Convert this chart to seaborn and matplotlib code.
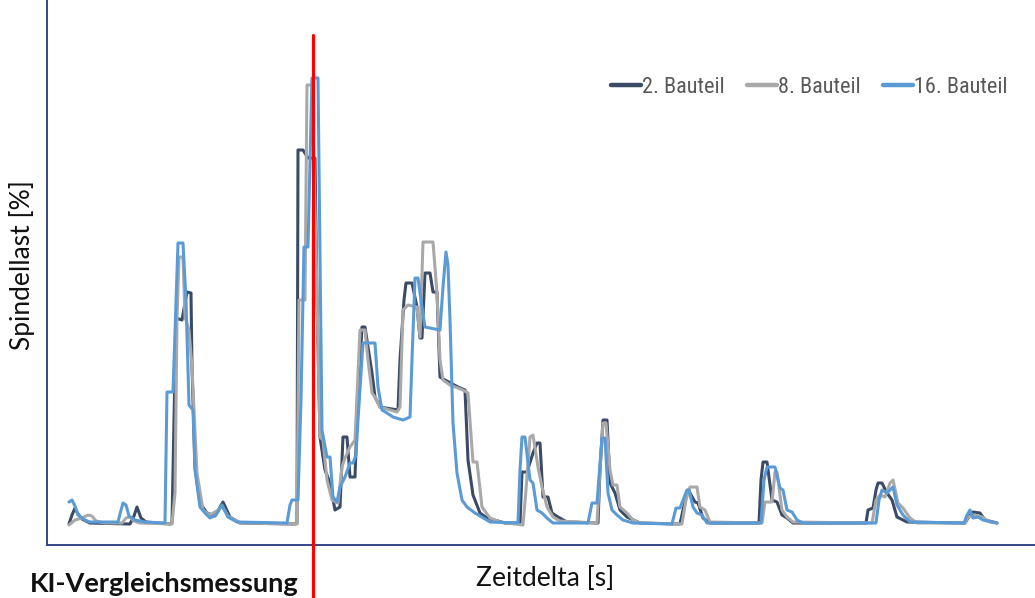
import matplotlib
matplotlib.use("Agg")
import matplotlib.pyplot as plt
import seaborn as sns
import pandas as pd

# Zeitdelta [s] / Spindellast [%]
t_b2 = [2.2, 2.5, 2.8, 3.1, 3.5, 4.3, 8.3, 8.7, 9.0, 9.4, 9.9, 12.3, 12.5, 12.9, 13.5, 14.0, 14.4, 14.5,
        14.8, 15.3, 16.0, 16.8, 17.6, 18.3, 19.3, 24.8, 25.0, 25.1, 25.6, 26.1, 26.8, 27.0, 27.3, 27.8,
        28.3, 28.8, 29.3, 29.6, 30.0, 30.3, 30.8, 31.0, 31.5, 31.8, 32.1, 32.5, 32.8, 33.3, 35.1, 35.3,
        35.7, 35.9, 36.5, 37.0, 37.3, 37.5, 37.8, 38.3, 38.6, 39.0, 39.3, 39.8, 41.1, 41.8, 42.1, 42.6,
        43.3, 44.0, 45.8, 47.3, 47.5, 48.0, 48.6, 49.0, 49.3, 49.6, 50.1, 50.5, 51.1, 52.0, 55.1, 55.3,
        55.6, 56.0, 56.3, 56.8, 57.3, 58.0, 59.3, 63.3, 63.6, 64.1, 64.3, 64.8, 65.1, 65.6, 66.3, 71.2,
        71.4, 71.6, 72.0, 72.5, 73.0, 73.5, 74.0, 74.6, 81.9, 82.1, 82.6, 82.9, 83.1, 83.5, 84.0, 84.5,
        85.0, 86.0, 91.8, 92.1, 92.6, 93.3, 93.8, 95.0]
y_b2 = [4.2, 6.0, 7.4, 6.2, 5.2, 4.4, 4.2, 5.8, 7.6, 5.4, 4.6, 4.2, 4.4, 45.4, 45.0, 50.6, 50.4, 35.6,
        15.6, 8.4, 6.4, 5.8, 8.6, 5.6, 4.4, 4.2, 4.4, 79.0, 79.0, 77.4, 77.4, 49.0, 21.6, 15.0,
        12.4, 7.0, 7.6, 21.6, 21.6, 13.6, 13.6, 25.0, 43.6, 43.6, 39.6, 34.4, 29.6, 27.6, 27.0, 37.0,
        49.0, 52.4, 52.4, 47.6, 41.4, 41.4, 54.4, 54.4, 50.6, 50.6, 33.6, 33.0, 31.6, 31.0, 17.0, 10.0,
        6.4, 5.4, 4.4, 4.4, 14.6, 14.6, 18.4, 20.4, 20.4, 9.6, 9.6, 6.4, 5.6, 4.6, 4.4, 15.0,
        25.0, 25.0, 12.4, 10.4, 7.0, 5.6, 4.4, 4.2, 7.0, 11.0, 10.4, 8.6, 8.4, 5.4, 4.4, 4.4,
        13.0, 16.6, 16.6, 9.0, 8.6, 6.0, 5.4, 4.4, 4.4, 7.0, 7.4, 11.0, 12.4, 12.4, 10.4, 9.0,
        5.6, 4.6, 4.4, 5.4, 6.6, 6.4, 5.0, 4.4]

t_b8 = [2.2, 2.8, 3.5, 4.1, 4.5, 4.9, 5.8, 7.5, 7.9, 8.3, 8.7, 9.3, 12.5, 12.8, 13.0, 13.2, 13.6, 13.8,
        14.2, 14.5, 15.0, 15.6, 16.3, 17.1, 17.5, 18.1, 19.3, 25.0, 25.2, 25.8, 26.0, 26.5, 26.9, 27.3,
        27.6, 28.0, 28.5, 29.1, 29.5, 29.8, 30.3, 30.8, 31.3, 31.8, 32.1, 32.5, 32.8, 33.3, 35.0, 35.3,
        35.6, 36.1, 37.0, 37.3, 37.6, 38.6, 39.0, 39.3, 39.6, 40.3, 41.6, 42.1, 42.6, 43.0, 43.5, 44.3,
        45.3, 47.6, 47.9, 48.3, 48.6, 49.1, 49.5, 50.0, 50.6, 51.3, 55.0, 55.3, 55.6, 55.9, 56.3, 56.6,
        57.0, 57.3, 58.0, 58.6, 59.3, 63.5, 63.9, 64.3, 65.0, 65.3, 65.8, 66.3, 71.5, 71.8, 72.5, 72.8,
        73.0, 73.5, 74.0, 74.6, 82.5, 82.9, 83.3, 83.8, 84.3, 84.6, 85.1, 85.6, 86.3, 87.0, 91.8, 92.1,
        92.8, 93.5, 94.3, 95.0]
y_b8 = [4.0, 5.0, 5.4, 6.0, 5.8, 4.8, 4.4, 4.4, 5.4, 5.6, 4.8, 4.4, 4.2, 10.4, 45.0, 57.6, 57.6, 45.6,
        43.0, 35.6, 14.4, 7.0, 6.0, 7.0, 7.8, 5.8, 4.4, 4.2, 49.0, 49.0, 92.0, 92.0, 59.0, 21.6,
        21.0, 13.0, 9.0, 8.4, 15.6, 17.4, 19.6, 21.0, 43.0, 43.0, 37.0, 30.4, 29.6, 27.6, 26.6, 27.6,
        47.0, 48.0, 47.6, 41.6, 60.6, 60.6, 50.4, 37.0, 33.0, 32.0, 31.0, 30.4, 16.6, 16.6, 7.6, 5.4,
        4.6, 4.0, 11.0, 21.6, 22.0, 15.6, 11.6, 7.6, 5.6, 4.8, 4.4, 15.0, 24.4, 24.4, 15.0, 12.0,
        12.0, 7.6, 6.4, 5.0, 4.4, 4.2, 9.0, 11.6, 11.6, 7.6, 7.0, 4.6, 4.4, 8.6, 8.6, 14.6,
        14.6, 7.0, 5.6, 4.6, 4.4, 9.0, 10.0, 9.6, 12.4, 13.0, 8.4, 7.4, 5.4, 4.4, 4.4, 5.6,
        6.0, 5.6, 4.6, 4.4]

t_b16 = [2.2, 2.5, 2.8, 3.1, 3.8, 4.3, 7.1, 7.3, 7.6, 7.9, 8.2, 8.8, 9.8, 11.8, 12.0, 12.6, 13.1, 13.6,
         13.9, 14.2, 14.6, 14.8, 15.3, 15.8, 16.3, 16.9, 17.5, 18.1, 19.0, 24.0, 24.3, 24.5, 25.1, 25.4,
         25.7, 26.1, 26.4, 26.5, 27.1, 27.3, 27.5, 28.0, 28.3, 28.6, 29.0, 29.3, 29.8, 30.3, 30.6, 30.9,
         31.1, 31.6, 32.8, 33.1, 33.5, 34.0, 34.6, 35.6, 36.3, 36.5, 36.8, 37.1, 37.5, 37.8, 39.3, 39.6,
         39.9, 40.1, 40.3, 40.6, 41.0, 41.5, 42.0, 42.8, 44.3, 47.1, 47.3, 47.5, 47.8, 48.3, 48.6, 49.0,
         49.5, 50.0, 50.6, 54.1, 54.5, 55.0, 55.5, 55.8, 56.1, 56.5, 57.0, 57.6, 58.6, 62.5, 62.9, 63.3,
         64.0, 64.2, 64.6, 65.0, 65.5, 66.0, 71.4, 71.7, 72.0, 72.8, 73.3, 73.6, 74.0, 74.5, 75.0, 75.6,
         82.9, 83.2, 83.5, 84.0, 84.3, 84.6, 85.0, 85.6, 86.3, 91.7, 92.0, 92.3, 92.6, 93.1, 93.6, 95.0]
y_b16 = [8.6, 9.0, 7.8, 6.0, 5.0, 4.6, 4.6, 6.2, 8.4, 8.0, 5.8, 5.0, 4.6, 4.4, 30.6, 30.6, 60.4, 60.4,
         49.0, 28.0, 27.0, 15.0, 7.6, 6.4, 5.4, 6.0, 8.0, 5.6, 4.6, 4.4, 8.0, 9.0, 9.0, 29.0,
         59.6, 59.6, 85.0, 93.4, 93.4, 59.0, 23.0, 17.6, 17.6, 9.6, 8.6, 11.6, 13.6, 16.4, 16.4, 18.0,
         25.0, 40.4, 40.4, 31.6, 27.0, 26.4, 25.6, 25.0, 25.6, 37.0, 53.4, 53.4, 47.6, 43.6, 43.0, 51.6,
         58.6, 56.0, 45.0, 24.4, 14.4, 9.0, 7.6, 6.4, 4.6, 4.4, 15.0, 21.6, 21.6, 13.0, 12.4, 7.0,
         6.4, 5.4, 4.4, 4.4, 8.4, 8.4, 21.4, 21.4, 10.4, 7.0, 6.0, 5.0, 4.4, 4.2, 7.4, 7.4,
         11.0, 11.0, 7.6, 6.4, 6.0, 4.4, 4.4, 13.0, 15.6, 15.6, 11.4, 11.0, 7.0, 6.6, 5.0, 4.4,
         4.4, 9.0, 11.0, 10.4, 11.0, 11.6, 8.0, 6.0, 4.6, 4.4, 6.0, 7.0, 5.4, 5.6, 5.0, 4.4]

series_names = ["2. Bauteil", "8. Bauteil", "16. Bauteil"]
series_colors = ["#3B4B66", "#A9A9A9", "#5B9BD5"]
marker_time = 26.6  # KI-Vergleichsmessung

frames = []
for name, t, y in [(series_names[0], t_b2, y_b2),
                   (series_names[1], t_b8, y_b8),
                   (series_names[2], t_b16, y_b16)]:
    frames.append(pd.DataFrame({"Zeitdelta": t, "Spindellast": y, "Bauteil": name}))
df = pd.concat(frames, ignore_index=True)

sns.set_style("white")
plt.rcParams['font.family'] = ['Lato', 'DejaVu Sans']

fig = plt.figure(figsize=(10.35, 5.98), dpi=100)
ax = fig.add_axes([0.0454, 0.0886, 0.9546, 0.9114])

sns.lineplot(data=df, x="Zeitdelta", y="Spindellast", hue="Bauteil", hue_order=series_names,
             palette=series_colors, estimator=None, sort=False, linewidth=2.2, ax=ax)

ax.set_xlim(0, 98.8)
ax.set_ylim(0, 109)
ax.set_xticks([])
ax.set_yticks([])
ax.set_xlabel("")
ax.set_ylabel("")
for side in ["top", "right"]:
    ax.spines[side].set_visible(False)
ax.spines["left"].set_color("#34458A")
ax.spines["bottom"].set_color("#34458A")
ax.spines["left"].set_linewidth(1.4)
ax.spines["bottom"].set_linewidth(1.4)

# red marker line, runs below the axis down to the figure edge
ax.axvline(marker_time, ymin=-0.1, ymax=0.936, color="#FF0000", linewidth=2.3, clip_on=False, zorder=5)

fig.text(0.0213, 0.557, "Spindellast [%]", rotation=90, ha="center", va="center", fontsize=19, color="#111111")
fig.text(0.527, 0.033, "Zeitdelta [s]", ha="center", va="center", fontsize=19, color="#111111")
fig.text(0.159, 0.024, "KI-Vergleichsmessung", ha="center", va="center", fontsize=19.5,
         fontweight="bold", color="#111111")

leg = ax.legend(loc="center right", bbox_to_anchor=(0.972, 0.84), ncol=3, frameon=False,
                borderpad=0, borderaxespad=0,
                handlelength=1.35, handletextpad=0.05, columnspacing=1.0,
                prop={"family": ["Roboto Condensed", "DejaVu Sans"], "stretch": "condensed", "size": 16})
for line in leg.get_lines():
    line.set_linewidth(3.2)
for txt in leg.get_texts():
    txt.set_color("#595959")

fig.savefig("out.png", dpi=100)
